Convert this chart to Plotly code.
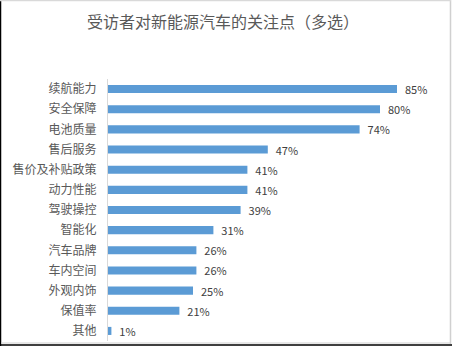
import plotly.graph_objects as go

categories = ["续航能力", "安全保障", "电池质量", "售后服务", "售价及补贴政策", "动力性能",
              "驾驶操控", "智能化", "汽车品牌", "车内空间", "外观内饰", "保值率", "其他"]
values = [85, 80, 74, 47, 41, 41, 39, 31, 26, 26, 25, 21, 1]
labels = [f"{v}%" for v in values]

W, H = 452, 346
L, R, T, B = 108, 4, 79, 5
PW, PH = W - L - R, H - T - B

def px(x):
    return (x - L) / PW

def py(y):
    return (H - B - y) / PH

font = "Noto Sans CJK SC, Microsoft YaHei, sans-serif"

fig = go.Figure(go.Bar(
    x=values, y=categories, orientation="h",
    marker=dict(color="#5b9bd5", line=dict(width=0)),
    width=0.4,
    text=labels, texttemplate="  %{text}", textposition="outside",
    constraintext="none",
    textfont=dict(family=font, size=11, color="#404040"),
    cliponaxis=False,
))

shapes = [
    dict(type="line", xref="paper", yref="paper", x0=px(0.5), x1=px(0.5), y0=py(0), y1=py(346), line=dict(color="#000000", width=1.5)),
    dict(type="line", xref="paper", yref="paper", x0=px(0), x1=px(452), y0=py(345), y1=py(345), line=dict(color="#000000", width=1.5)),
    dict(type="line", xref="paper", yref="paper", x0=px(1), x1=px(451), y0=py(343), y1=py(343), line=dict(color="#d0d0d0", width=1)),
    dict(type="line", xref="paper", yref="paper", x0=px(450.5), x1=px(450.5), y0=py(0), y1=py(344), line=dict(color="#d0d0d0", width=1.5)),
    dict(type="line", xref="paper", yref="paper", x0=px(0), x1=px(451), y0=py(0.5), y1=py(0.5), line=dict(color="#d9d9d9", width=1.5)),
]

fig.update_layout(
    width=W, height=H,
    margin=dict(l=L, r=R, t=T, b=B),
    paper_bgcolor="white", plot_bgcolor="white",
    showlegend=False,
    title=dict(text="受访者对新能源汽车的关注点（多选）", x=223 / W, xanchor="center",
               y=1 - 22 / H, yanchor="middle",
               font=dict(family=font, size=16, color="#595959")),
    xaxis=dict(range=[0, 100], visible=False, fixedrange=True),
    yaxis=dict(autorange="reversed", showline=True, linecolor="#d9d9d9", linewidth=1,
               ticks="", ticklabelstandoff=8, showgrid=False,
               tickfont=dict(family=font, size=12, color="#595959")),
    shapes=shapes,
)

fig.write_html("out.html")
